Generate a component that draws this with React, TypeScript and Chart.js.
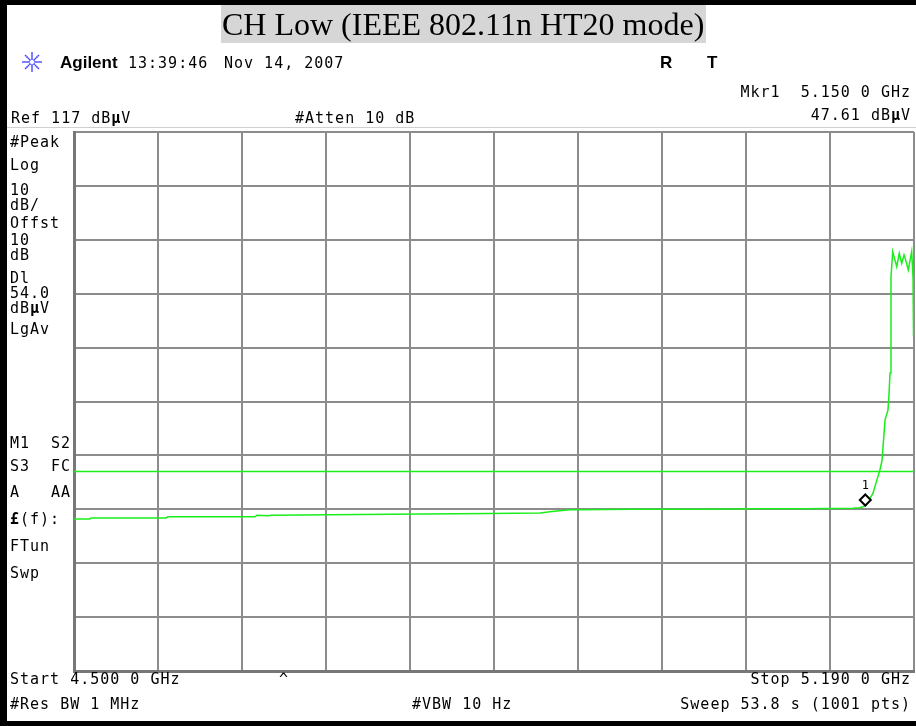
import React, { useEffect, useRef } from "react";
import { Chart, registerables } from "chart.js";

Chart.register(...registerables);

// ---- Data ----
const titleText = "CH Low (IEEE 802.11n HT20 mode)";
const startFreq = 4.5; // GHz
const stopFreq = 5.19; // GHz
const refLevel = 117; // dBµV
const dbPerDiv = 10;
const displayLine = 54.0; // dBµV
const markerFreq = 5.15;
const markerLevel = 47.61;

const traceFreqs = [
  4.5, 4.5131, 4.514, 4.5756, 4.5772, 4.6487, 4.6503, 4.6594, 4.6620, 4.7103,
  4.7600, 4.8417, 4.8828, 4.8926, 4.9074, 4.9140, 4.9600, 5.0142, 5.0600, 5.1000,
  5.1399, 5.1456, 5.1497, 5.1522, 5.1563, 5.1596, 5.162, 5.1637, 5.1645, 5.1662,
  5.1686, 5.1694, 5.1703, 5.1711, 5.1725, 5.174, 5.1758, 5.1779, 5.1799, 5.1818,
  5.1835, 5.1853, 5.1881, 5.1892, 5.1896,
];
const traceLevels = [
  45.2, 45.2, 45.4, 45.4, 45.6, 45.6, 45.9, 45.8, 45.9, 46.0,
  46.1, 46.2, 46.3, 46.6, 46.9, 46.9, 47.0, 47.0, 47.1, 47.1,
  47.2, 47.3, 47.6, 48.3, 50.0, 52.5, 54.3, 56.0, 58.4, 63.6,
  65.4, 68.0, 72.3, 90.1, 94.8, 93.5, 92.0, 94.5, 92.6, 94.2,
  93.0, 91.4, 94.8, 90.0, 79.0,
];

const leftLabels = [
  "#Peak", "Log", "10", "dB/", "Offst", "10", "dB", "Dl", "54.0", "dBµV", "LgAv",
];
const leftLabelBaselines = [147, 170, 195, 210, 228, 245, 260, 283, 298, 313, 334];

const MONO = "15px 'DejaVu Sans Mono'";
const MONO_B = "bold 15px 'DejaVu Sans Mono'";

type Seg = [string, boolean?];

function drawSegs(ctx: CanvasRenderingContext2D, x: number, y: number, segs: Seg[], align: "left" | "right" = "left") {
  ctx.save();
  ctx.textAlign = "left";
  ctx.textBaseline = "alphabetic";
  (ctx as any).letterSpacing = "1px";
  let total = 0;
  const widths = segs.map(([t, b]) => {
    ctx.font = b ? MONO_B : MONO;
    const w = ctx.measureText(t).width;
    total += w;
    return w;
  });
  let cx = align === "right" ? x - total : x;
  segs.forEach(([t, b], i) => {
    ctx.font = b ? MONO_B : MONO;
    ctx.fillText(t, cx, y);
    cx += widths[i];
  });
  ctx.restore();
}

function splitMu(s: string): Seg[] {
  const parts = s.split("µ");
  const out: Seg[] = [];
  parts.forEach((p, i) => {
    if (i > 0) out.push(["µ", true]);
    if (p) out.push([p, false]);
  });
  return out;
}

const decorPlugin = {
  id: "analyzerDecor",
  beforeDraw(chart: any) {
    const ctx: CanvasRenderingContext2D = chart.ctx;
    ctx.save();
    ctx.fillStyle = "#ffffff";
    ctx.fillRect(0, 0, chart.width, chart.height);
    ctx.restore();
  },
  afterDraw(chart: any) {
    const ctx: CanvasRenderingContext2D = chart.ctx;
    const xs = chart.scales.x;
    const ys = chart.scales.y;
    ctx.save();
    // frame bars
    ctx.fillStyle = "#000000";
    ctx.fillRect(0, 0, 7, chart.height);
    ctx.fillRect(0, 0, chart.width, 5);
    ctx.fillRect(0, 721, chart.width, 5);

    // title
    ctx.fillStyle = "#d6d6d6";
    ctx.fillRect(221, 5, 485, 38);
    ctx.fillStyle = "#000000";
    ctx.font = "32px 'Liberation Serif'";
    ctx.textBaseline = "alphabetic";
    ctx.textAlign = "left";
    ctx.fillText(titleText, 222, 35);

    // logo starburst
    ctx.strokeStyle = "#3a3aff";
    ctx.fillStyle = "#3a3aff";
    ctx.lineWidth = 1.2;
    const lx = 32, ly = 62;
    for (let i = 0; i < 8; i++) {
      const a = (i * Math.PI) / 4;
      for (let r = 3; r <= 9; r += 2) {
        ctx.fillRect(lx + Math.cos(a) * r - 0.8, ly + Math.sin(a) * r - 0.8, 1.6, 1.6);
      }
    }

    // header
    ctx.fillStyle = "#000000";
    ctx.font = "bold 17px 'Liberation Sans'";
    ctx.fillText("Agilent", 60, 68);
    drawSegs(ctx, 128, 68, [["13:39:46"]]);
    drawSegs(ctx, 224, 68, [["Nov 14, 2007"]]);
    ctx.font = "bold 17px 'Liberation Sans'";
    ctx.fillText("R", 660, 68);
    ctx.fillText("T", 707, 68);
    drawSegs(ctx, 911, 97, [["Mkr1  5.150 0 GHz"]], "right");
    drawSegs(ctx, 911, 120, splitMu("47.61 dBµV"), "right");
    drawSegs(ctx, 11, 123, splitMu("Ref 117 dBµV"));
    drawSegs(ctx, 295, 123, [["#Atten 10 dB"]]);
    ctx.fillStyle = "#d0d0d0";
    ctx.fillRect(7, 127, chart.width - 7, 1);
    ctx.fillStyle = "#000000";

    // left column
    leftLabels.forEach((t, i) => drawSegs(ctx, 10, leftLabelBaselines[i], splitMu(t)));
    drawSegs(ctx, 10, 448, [["M1"]]);
    drawSegs(ctx, 71, 448, [["S2"]], "right");
    drawSegs(ctx, 10, 471, [["S3"]]);
    drawSegs(ctx, 71, 471, [["FC"]], "right");
    drawSegs(ctx, 10, 497, [["A"]]);
    drawSegs(ctx, 71, 497, [["AA"]], "right");
    drawSegs(ctx, 10, 524, [["£", true], ["(f):"]]);
    drawSegs(ctx, 10, 551, [["FTun"]]);
    drawSegs(ctx, 10, 578, [["Swp"]]);

    // bottom
    drawSegs(ctx, 10, 684, [["Start 4.500 0 GHz"]]);
    drawSegs(ctx, 279, 684, [["^"]]);
    drawSegs(ctx, 911, 684, [["Stop 5.190 0 GHz"]], "right");
    drawSegs(ctx, 10, 709, [["#Res BW 1 MHz"]]);
    drawSegs(ctx, 412, 709, [["#VBW 10 Hz"]]);
    drawSegs(ctx, 911, 709, [["Sweep 53.8 s (1001 pts)"]], "right");

    // marker diamond
    const mx = xs.getPixelForValue(markerFreq);
    const my = ys.getPixelForValue(markerLevel);
    const cy = my - 6;
    ctx.beginPath();
    ctx.moveTo(mx, cy - 5.5);
    ctx.lineTo(mx + 5.5, cy);
    ctx.lineTo(mx, cy + 5.5);
    ctx.lineTo(mx - 5.5, cy);
    ctx.closePath();
    ctx.fillStyle = "#ffffff";
    ctx.fill();
    ctx.strokeStyle = "#000000";
    ctx.lineWidth = 2;
    ctx.stroke();
    ctx.fillStyle = "#000000";
    ctx.font = "12px 'DejaVu Sans Mono'";
    ctx.textAlign = "center";
    ctx.fillText("1", mx, cy - 11);
    ctx.restore();
  },
};

export default function App() {
  const ref = useRef<HTMLCanvasElement | null>(null);
  useEffect(() => {
    if (!ref.current) return;
    const trace = traceFreqs.map((f, i) => ({ x: f, y: traceLevels[i] }));
    const chart = new Chart(ref.current, {
      type: "scatter",
      data: {
        datasets: [
          {
            data: [
              { x: startFreq, y: displayLine },
              { x: stopFreq, y: displayLine },
            ],
            showLine: true,
            borderColor: "#1aee1a",
            borderWidth: 1.5,
            pointRadius: 0,
          },
          {
            data: trace,
            showLine: true,
            borderColor: "#1aee1a",
            borderWidth: 1.5,
            pointRadius: 0,
            tension: 0,
          },
        ],
      },
      options: {
        responsive: false,
        animation: false,
        devicePixelRatio: 1,
        layout: { padding: { left: 74, top: 132, right: 2, bottom: 55 } },
        plugins: { legend: { display: false }, tooltip: { enabled: false } },
        scales: {
          x: {
            type: "linear",
            min: startFreq,
            max: stopFreq,
            ticks: { display: false },
            grid: { color: "#8c8c8c", lineWidth: 2, drawTicks: false },
            border: { color: "#777777", width: 3 },
            afterBuildTicks: (scale: any) => {
              const step = (stopFreq - startFreq) / 10;
              scale.ticks = Array.from({ length: 11 }, (_, i) => ({ value: startFreq + i * step }));
            },
          },
          y: {
            type: "linear",
            min: refLevel - dbPerDiv * 10,
            max: refLevel,
            ticks: { display: false, stepSize: dbPerDiv },
            grid: { color: "#8c8c8c", lineWidth: 2, drawTicks: false },
            border: { color: "#777777", width: 3 },
          },
        },
      },
      plugins: [decorPlugin],
    });
    return () => chart.destroy();
  }, []);
  return (
    <div style={{ position: "absolute", left: 0, top: 0, width: 916, height: 726 }}>
      <canvas ref={ref} width={916} height={726} style={{ width: 916, height: 726 }} />
    </div>
  );
}
